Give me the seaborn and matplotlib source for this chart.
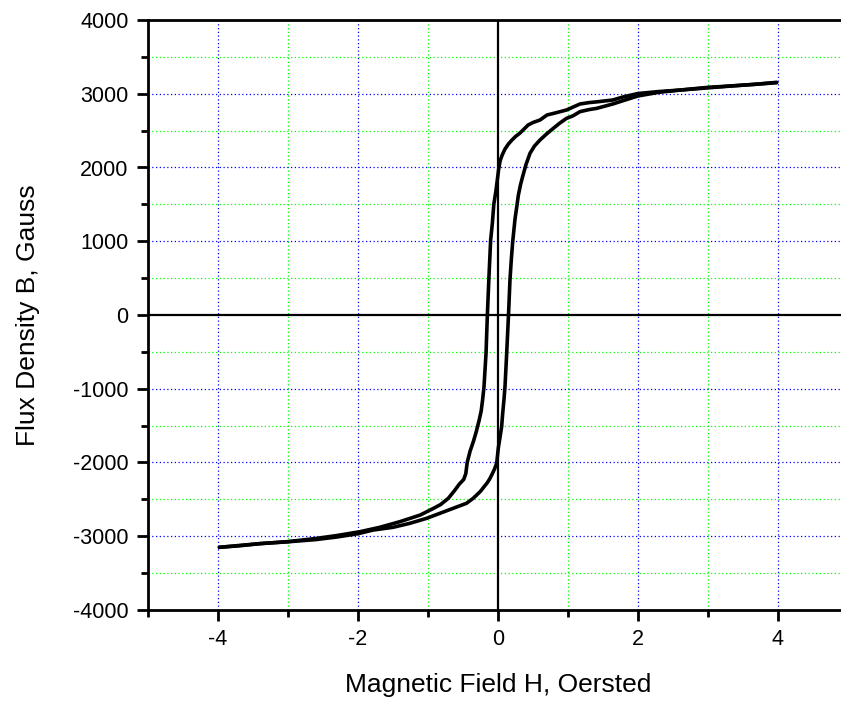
import matplotlib
matplotlib.use("Agg")
import matplotlib.pyplot as plt
import seaborn as sns
from matplotlib.ticker import MultipleLocator, FixedLocator

# Hysteresis loop: field H (Oersted) and flux density B (Gauss)
# Descending branch, +4 Oe -> -4 Oe
H_down = [3.98, 3.7, 3.4, 3.0, 2.6, 2.3, 2.0, 1.8, 1.64, 1.41, 1.30, 1.17,
          0.98, 0.82, 0.70, 0.60, 0.50, 0.43, 0.36, 0.31, 0.25, 0.20, 0.15,
          0.10, 0.06, 0.03, 0.01, -0.01, -0.03, -0.06, -0.08, -0.105, -0.13,
          -0.152, -0.171, -0.20, -0.22, -0.24, -0.27, -0.31, -0.35, -0.40,
          -0.44, -0.46, -0.49, -0.55, -0.62, -0.71, -0.82, -0.92, -1.11,
          -1.40, -1.69, -1.97, -2.3, -2.6, -3.0, -3.4, -3.7, -3.98]
B_down = [3155, 3130, 3110, 3087, 3050, 3030, 3003, 2960, 2915, 2890, 2880,
          2861, 2780, 2740, 2712, 2644, 2610, 2576, 2510, 2464, 2420, 2373,
          2320, 2250, 2170, 2090, 1980, 1830, 1680, 1500, 1250, 1017, 500,
          0, -520, -972, -1150, -1300, -1430, -1580, -1710, -1850, -2000,
          -2150, -2230, -2290, -2380, -2486, -2570, -2621, -2712, -2802,
          -2879, -2938, -2990, -3030, -3073, -3100, -3130, -3150]

# Ascending branch, -4 Oe -> +4 Oe
H_up = [-3.98, -3.7, -3.4, -3.0, -2.6, -2.3, -2.0, -1.78, -1.50, -1.26, -1.02,
        -0.83, -0.64, -0.45, -0.36, -0.305, -0.25, -0.20, -0.15, -0.114,
        -0.08, -0.05, -0.019, 0.005, 0.03, 0.052, 0.067, 0.085, 0.10, 0.124,
        0.15, 0.171, 0.19, 0.21, 0.243, 0.27, 0.29, 0.32, 0.35, 0.40, 0.457,
        0.52, 0.60, 0.70, 0.79, 0.88, 0.98, 1.07, 1.17, 1.30, 1.41, 1.64,
        1.8, 2.0, 2.3, 2.6, 3.0, 3.4, 3.7, 3.98]
B_up = [-3150, -3125, -3100, -3075, -3045, -3010, -2965, -2915, -2879, -2825,
        -2757, -2689, -2621, -2553, -2490, -2441, -2390, -2330, -2270, -2215,
        -2150, -2090, -2011, -1800, -1650, -1514, -1333, -1150, -972, -520,
        0, 475, 750, 994, 1300, 1480, 1620, 1760, 1870, 2040, 2192, 2290,
        2373, 2460, 2531, 2600, 2667, 2700, 2757, 2785, 2802, 2861, 2910,
        2970, 3020, 3050, 3080, 3110, 3130, 3150]

x_major = [-4, -2, 0, 2, 4]
x_minor = [-5, -3, -1, 1, 3, 5]
x_labels = ["-4", "-2", "0", "2", "4"]

sns.set_style("white")
plt.rcParams["font.family"] = ["Liberation Sans", "DejaVu Sans"]
plt.rcParams["axes.unicode_minus"] = False
plt.rcParams["text.color"] = "black"
plt.rcParams["axes.labelcolor"] = "black"
plt.rcParams["xtick.color"] = "black"
plt.rcParams["ytick.color"] = "black"

fig = plt.figure(figsize=(8.41, 7.02), dpi=100)
ax = fig.add_axes([148 / 841, 1 - 610 / 702, 700 / 841, 590 / 702])

ax.set_xlim(-5, 5)
ax.set_ylim(-4000, 4000)

# dotted grid: blue on major ticks, green on minor ticks
dot = (0, (1, 2))
for xv in x_major:
    if xv != 0:
        ax.axvline(xv, color="#0000ff", lw=0.9, ls=dot, zorder=0)
for xv in x_minor:
    ax.axvline(xv, color="#00ff00", lw=0.9, ls=dot, zorder=0)
for yv in range(-3000, 4000, 1000):
    if yv != 0:
        ax.axhline(yv, color="#0000ff", lw=0.9, ls=dot, zorder=0)
for yv in range(-3500, 4000, 1000):
    ax.axhline(yv, color="#00ff00", lw=0.9, ls=dot, zorder=0)

ax.axhline(0, color="black", lw=1.6, zorder=1)
ax.axvline(0, color="black", lw=1.6, zorder=1)

sns.lineplot(x=H_down, y=B_down, sort=False, estimator=None, color="black",
             lw=2.6, ax=ax, zorder=3)
sns.lineplot(x=H_up, y=B_up, sort=False, estimator=None, color="black",
             lw=2.6, ax=ax, zorder=3)

ax.xaxis.set_major_locator(FixedLocator(x_major))
ax.set_xticklabels(x_labels)
ax.xaxis.set_minor_locator(FixedLocator(x_minor))
ax.yaxis.set_major_locator(MultipleLocator(1000))
ax.yaxis.set_minor_locator(MultipleLocator(500))

for side in ["left", "bottom", "top"]:
    ax.spines[side].set_visible(True)
    ax.spines[side].set_color("black")
    ax.spines[side].set_linewidth(2.0)
ax.spines["right"].set_visible(False)

ax.tick_params(axis="both", which="major", direction="out", length=8,
               width=2.0, color="black", labelcolor="black", labelsize=15.5,
               pad=6, left=True, bottom=True, top=False, right=False)
ax.tick_params(axis="both", which="minor", direction="out", length=5,
               width=2.0, color="black",
               left=True, bottom=True, top=False, right=False)

ax.set_xlabel("Magnetic Field H, Oersted", fontsize=19, labelpad=16,
              color="black")
ax.set_ylabel("Flux Density B, Gauss", fontsize=19, labelpad=24,
              color="black")

fig.savefig("out.png", dpi=100)
